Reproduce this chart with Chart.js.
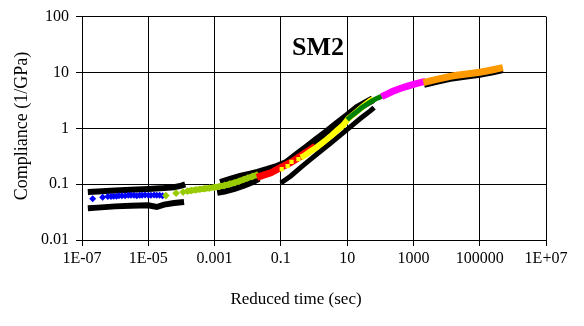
<!DOCTYPE html>
<html>
<head>
<meta charset="utf-8">
<script src="https://cdn.jsdelivr.net/npm/chart.js@4/dist/chart.umd.min.js"></script>
<style>
  html, body { margin: 0; padding: 0; background: #fff; }
  #wrap { width: 584px; height: 326px; }
</style>
</head>
<body>
<div id="wrap"><canvas id="c" width="584" height="326"></canvas></div>
<script>
// ---- axis ticks ----
const xTickVals = [1e-7, 1e-5, 1e-3, 0.1, 10, 1000, 1e5, 1e7];
const xTickLabels = ['1E-07', '1E-05', '0.001', '0.1', '10', '1000', '100000', '1E+07'];
const yTickVals = [0.01, 0.1, 1, 10, 100];
const yTickLabels = ['0.01', '0.1', '1', '10', '100'];

// ---- coloured master-curve segments (reduced time s, compliance 1/GPa) ----
const blueT = [2.1e-7, 4.2e-7, 6e-7, 7.5e-7, 9e-7, 1.1e-6, 1.3e-6, 1.6e-6, 2e-6, 2.5e-6, 3e-6, 3.7e-6, 4.5e-6, 5.5e-6, 6.5e-6, 8e-6, 1e-5, 1.2e-5, 1.5e-5, 1.8e-5, 2.2e-5, 2.7e-5];
const blueJ = [0.055, 0.058, 0.060, 0.060, 0.061, 0.061, 0.062, 0.062, 0.062, 0.063, 0.063, 0.063, 0.062, 0.063, 0.063, 0.064, 0.063, 0.063, 0.064, 0.063, 0.063, 0.062];

const greenT = [3.4e-5, 6.9e-5, 1.12e-4, 1.5e-4, 2e-4, 2.7e-4, 3.6e-4, 5e-4, 7e-4, 1e-3, 1.4e-3, 2e-3, 2.8e-3, 4e-3, 5.5e-3, 7.5e-3, 1e-2, 1.4e-2, 1.9e-2];
const greenJ = [0.0624, 0.069, 0.072, 0.075, 0.077, 0.079, 0.081, 0.083, 0.085, 0.088, 0.091, 0.095, 0.100, 0.106, 0.113, 0.121, 0.129, 0.138, 0.146];

const redT = [0.019, 0.03, 0.05, 0.08, 0.12, 0.2, 0.3, 0.5, 0.8, 1.1];
const redJ = [0.132, 0.145, 0.160, 0.185, 0.210, 0.245, 0.285, 0.350, 0.420, 0.480];

const yellowDotT = [0.106, 0.16, 0.21, 0.34];
const yellowDotJ = [0.186, 0.21, 0.25, 0.28];

const yellowT = [0.4, 0.5, 0.75, 1.1, 1.6, 2.4, 3.5, 5, 7.5, 11, 16, 24, 35, 50, 62];
const yellowJ = [0.30, 0.32, 0.38, 0.44, 0.52, 0.63, 0.76, 0.92, 1.13, 1.50, 1.80, 2.20, 2.65, 3.10, 3.35];

const dkGreenT = [10, 14, 20, 28, 40, 55, 75, 100, 110];
const dkGreenJ = [1.43, 1.70, 2.00, 2.35, 2.70, 3.05, 3.40, 3.65, 3.75];

const magentaT = [110, 160, 240, 380, 600, 900, 1300, 1800, 2300];
const magentaJ = [3.7, 4.1, 4.6, 5.1, 5.6, 6.0, 6.4, 6.7, 6.9];

const orangeT = [2000, 3000, 5000, 8000, 1.3e4, 2e4, 3.5e4, 6e4, 1e5, 1.6e5, 2.5e5, 3.6e5, 5e5];
const orangeJ = [6.6, 7.0, 7.5, 8.0, 8.5, 8.9, 9.3, 9.7, 10.1, 10.6, 11.2, 11.7, 12.2];

// ---- black raw-data traces ----
const blkBlueUpT = [1.5e-7, 3e-7, 1e-6, 3e-6, 1e-5, 3e-5, 6e-5, 1e-4, 1.3e-4];
const blkBlueUpJ = [0.072, 0.074, 0.077, 0.079, 0.082, 0.085, 0.088, 0.094, 0.099];

const blkBlueLoT = [1.5e-7, 3e-7, 1e-6, 3e-6, 1e-5, 1.8e-5, 3e-5, 6e-5, 1.2e-4];
const blkBlueLoJ = [0.037, 0.038, 0.040, 0.041, 0.042, 0.039, 0.043, 0.046, 0.048];

const blkUpperT = [0.0015, 0.003, 0.006, 0.012, 0.02, 0.04, 0.08, 0.15, 0.3, 0.6, 1.2, 2.5, 5, 10, 20, 40, 60];
const blkUpperJ = [0.105, 0.120, 0.135, 0.148, 0.160, 0.180, 0.205, 0.240, 0.330, 0.450, 0.620, 0.860, 1.20, 1.65, 2.30, 2.90, 3.30];

const blkGreenLoT = [0.0012, 0.002, 0.004, 0.008, 0.015, 0.022];
const blkGreenLoJ = [0.070, 0.074, 0.082, 0.095, 0.110, 0.125];

const blkBranchT = [0.1, 0.2, 0.4, 0.8, 1.5, 3, 6, 12, 25, 50, 65];
const blkBranchJ = [0.105, 0.14, 0.20, 0.28, 0.38, 0.53, 0.74, 1.04, 1.50, 2.05, 2.35];

const blkOrangeT = [2100, 5000, 1.3e4, 3.5e4, 1e5, 2.5e5, 5e5];
const blkOrangeJ = [6.0, 6.8, 7.7, 8.4, 9.1, 10.1, 11.0];

function pts(t, j) { return t.map((v, i) => ({ x: v, y: j[i] })); }

function lineDs(t, j, color, width, order) {
  return { data: pts(t, j), showLine: true, borderColor: color, backgroundColor: color,
           borderWidth: width, pointRadius: 0, order: order, borderCapStyle: 'butt' };
}

const datasets = [
  lineDs(blkBlueUpT, blkBlueUpJ, '#000000', 6, 20),
  lineDs(blkBlueLoT, blkBlueLoJ, '#000000', 6, 20),
  lineDs(blkUpperT, blkUpperJ, '#000000', 8, 20),
  lineDs(blkGreenLoT, blkGreenLoJ, '#000000', 6, 20),
  lineDs(blkBranchT, blkBranchJ, '#000000', 5, 20),
  lineDs(blkOrangeT, blkOrangeJ, '#000000', 6, 20),
  { data: pts(blueT, blueJ), showLine: false, pointStyle: 'rectRot', pointRadius: 3.5,
    backgroundColor: '#0000FF', borderColor: '#0000FF', borderWidth: 0, order: 9 },
  { data: pts(greenT, greenJ), showLine: true, pointStyle: 'rectRot', pointRadius: 3.8,
    backgroundColor: '#99CC00', borderColor: '#99CC00', pointBorderWidth: 0, borderWidth: 6, order: 8,
    segment: { borderColor: c => c.p0DataIndex < 3 ? 'rgba(0,0,0,0)' : '#99CC00' } },
  lineDs(redT, redJ, '#FF0000', 7, 7),
  { data: pts(yellowDotT, yellowDotJ), showLine: false, pointStyle: 'rect', pointRadius: 3,
    backgroundColor: '#FFFF00', borderColor: '#FFFF00', borderWidth: 0, order: 6 },
  lineDs(yellowT, yellowJ, '#FFFF00', 6, 6),
  lineDs(dkGreenT, dkGreenJ, '#008000', 5, 5),
  lineDs(magentaT, magentaJ, '#FF00FF', 7, 4),
  lineDs(orangeT, orangeJ, '#FF9900', 7, 3)
];

const serif = '"Liberation Serif", "Times New Roman", serif';

const textPlugin = {
  id: 'texts',
  afterDraw(chart) {
    const ctx = chart.ctx;
    ctx.save();
    ctx.fillStyle = '#000';
    ctx.textAlign = 'center';
    ctx.textBaseline = 'middle';
    ctx.font = 'bold 26px ' + serif;
    ctx.fillText('SM2', 318, 48);
    ctx.font = '17px ' + serif;
    ctx.fillText('Reduced time (sec)', 296, 300);
    ctx.translate(22, 126);
    ctx.rotate(-Math.PI / 2);
    ctx.font = '18px ' + serif;
    ctx.fillText('Compliance (1/GPa)', 0, 0);
    ctx.restore();
  }
};
const bgPlugin = {
  id: 'bg',
  beforeDraw(chart) {
    const ctx = chart.ctx;
    ctx.save(); ctx.fillStyle = '#fff'; ctx.fillRect(0, 0, chart.width, chart.height); ctx.restore();
  }
};

const font = { family: serif, size: 16 };

new Chart(document.getElementById('c'), {
  type: 'scatter',
  data: { datasets },
  options: {
    responsive: false, animation: false, devicePixelRatio: 1,
    layout: { padding: { top: 14, right: 38, left: 0, bottom: 0 } },
    plugins: { legend: { display: false }, tooltip: { enabled: false } },
    scales: {
      x: {
        type: 'logarithmic', min: 1e-7, max: 1e7,
        afterBuildTicks: s => { s.ticks = xTickVals.map(v => ({ value: v })); },
        afterFit: s => { s.height = 86; },
        ticks: { autoSkip: false, maxRotation: 0, minRotation: 0, color: '#000', font, padding: 3,
                 callback: (v, i) => xTickLabels[i] },
        grid: { color: '#000', lineWidth: 1, tickLength: 6, tickColor: '#000' },
        border: { display: true, color: '#000', width: 1 }
      },
      y: {
        type: 'logarithmic', min: 0.01, max: 100,
        afterBuildTicks: s => { s.ticks = yTickVals.map(v => ({ value: v })); },
        afterFit: s => { s.width = 82; },
        ticks: { autoSkip: false, color: '#000', font, padding: 7,
                 callback: (v, i) => yTickLabels[i] },
        grid: { color: '#000', lineWidth: 1, tickLength: 6, tickColor: '#000' },
        border: { display: true, color: '#000', width: 1 }
      }
    }
  },
  plugins: [bgPlugin, textPlugin]
});
</script>
</body>
</html>
